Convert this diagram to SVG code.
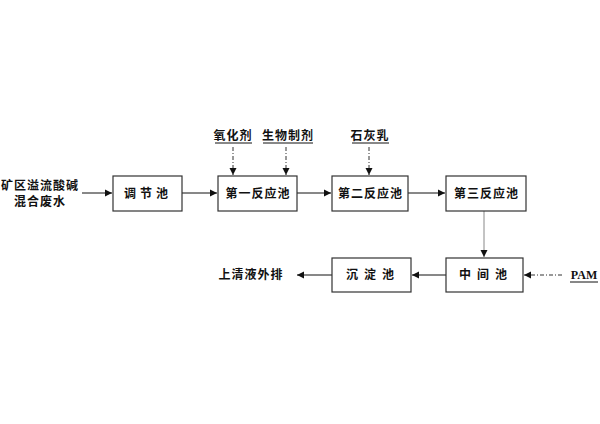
<svg xmlns="http://www.w3.org/2000/svg" width="600" height="424" viewBox="0 0 600 424">
<style>
.box{fill:#fff;stroke:#333;stroke-width:1.2}
.t{font-family:"Liberation Serif","Noto Sans CJK SC",serif;font-size:12px;font-weight:bold;fill:#111;text-anchor:middle;letter-spacing:1px}
.c{stroke:#111;stroke-width:1;fill:none}
.d{stroke:#333;stroke-width:1;fill:none;stroke-dasharray:4 2 1 2}
.u{stroke:#111;stroke-width:1}
</style>
<defs><marker id="a" markerWidth="8" markerHeight="8" refX="7" refY="4" orient="auto" markerUnits="userSpaceOnUse"><path d="M0,0.5 L7,4 L0,7.5Z" fill="#111"/></marker></defs>
<rect width="600" height="424" fill="#fff"/>
<g id="connectors">
<line class="c" x1="82" y1="193" x2="112" y2="193" marker-end="url(#a)"/>
<line class="c" x1="182" y1="193" x2="217" y2="193" marker-end="url(#a)"/>
<line class="c" x1="297" y1="193" x2="331" y2="193" marker-end="url(#a)"/>
<line class="c" x1="408" y1="193" x2="445" y2="193" marker-end="url(#a)"/>
<line class="d" x1="233" y1="147" x2="233" y2="175" marker-end="url(#a)"/>
<line class="d" x1="286" y1="147" x2="286" y2="175" marker-end="url(#a)"/>
<line class="d" x1="369" y1="147" x2="369" y2="175" marker-end="url(#a)"/>
<line x1="484" y1="211" x2="484" y2="257" stroke="#888" stroke-width="1" marker-end="url(#a)"/>
<line class="d" x1="562" y1="275" x2="524" y2="275" marker-end="url(#a)"/>
<line class="c" x1="446" y1="275" x2="412" y2="275" marker-end="url(#a)"/>
<line class="c" x1="332" y1="275" x2="297" y2="275" marker-end="url(#a)"/>
</g>
<g id="input"><text class="t" x="40" y="190">矿区溢流酸碱</text><text class="t" x="40" y="206">混合废水</text></g>
<g id="n1"><rect class="box" x="113" y="176" width="69" height="35"/><text class="t" x="148" y="198" style="letter-spacing:4px">调节池</text></g>
<g id="n2"><rect class="box" x="218" y="176" width="79" height="35"/><text class="t" x="258" y="198">第一反应池</text></g>
<g id="n3"><rect class="box" x="332" y="176" width="76" height="35"/><text class="t" x="370.5" y="198">第二反应池</text></g>
<g id="n4"><rect class="box" x="446" y="176" width="80" height="35"/><text class="t" x="486.5" y="198">第三反应池</text></g>
<g id="n5"><rect class="box" x="446" y="258" width="77" height="34"/><text class="t" x="486" y="279" style="letter-spacing:6px">中间池</text></g>
<g id="n6"><rect class="box" x="332" y="258" width="79" height="34"/><text class="t" x="373" y="279" style="letter-spacing:6px">沉淀池</text></g>
<g id="out"><text class="t" x="251" y="279">上清液外排</text></g>
<g id="r1"><text class="t" x="233" y="140">氧化剂</text><line class="u" x1="215" y1="143" x2="252" y2="143"/></g>
<g id="r2"><text class="t" x="288" y="140">生物制剂</text><line class="u" x1="263" y1="143" x2="313" y2="143"/></g>
<g id="r3"><text class="t" x="370" y="140">石灰乳</text><line class="u" x1="352" y1="143" x2="389" y2="143"/></g>
<g id="pam"><text class="t" x="584" y="279" style="letter-spacing:0">PAM</text><line class="u" x1="570" y1="282" x2="598" y2="282"/></g>
</svg>
